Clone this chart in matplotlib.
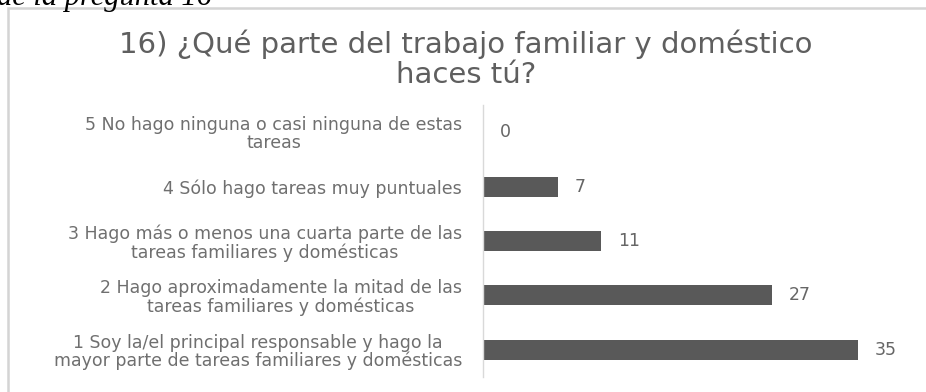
import matplotlib

matplotlib.use("Agg", force=True)
import matplotlib.pyplot as plt
from matplotlib.patches import Rectangle

# answers to question 16, bottom to top
categories = [
    "1 Soy la/el principal responsable y hago la\nmayor parte de tareas familiares y domésticas",
    "2 Hago aproximadamente la mitad de las\ntareas familiares y domésticas",
    "3 Hago más o menos una cuarta parte de las\ntareas familiares y domésticas",
    "4 Sólo hago tareas muy puntuales",
    "5 No hago ninguna o casi ninguna de estas\ntareas",
]
counts = [35, 27, 11, 7, 0]

title_lines = ["16) ¿Qué parte del trabajo familiar y doméstico", "haces tú?"]
caption = "de la pregunta 16"

W, H = 926, 392
fig = plt.figure(figsize=(W / 100, H / 100), dpi=100)
fig.patch.set_facecolor("white")

# chart frame, runs off the right and bottom edges
fig.patches.append(
    Rectangle((8 / W, -0.1), 1.2, (H - 8) / H + 0.1, transform=fig.transFigure,
              fill=False, edgecolor="#d4d4d4", linewidth=1.8)
)

fig.text(-3 / W, 1 - 5 / H, caption, family="Liberation Serif", style="italic",
         fontsize=22, color="black", ha="left", va="baseline")

for baseline, line in zip((53, 83), title_lines):
    fig.text(466 / W, 1 - baseline / H, line, ha="center", va="baseline",
             fontsize=21, color="#5f5f5f")

ax = fig.add_axes([483 / W, 15 / H, 428 / W, 272 / H])
y = range(len(categories))
ax.barh(y, counts, height=0.37, color="#595959")
ax.set_xlim(0, 40)
ax.set_ylim(-0.5, len(categories) - 0.5)

for i, v in zip(y, counts):
    ax.annotate(str(v), (v, i), xytext=(17, 0), textcoords="offset pixels",
                ha="left", va="center", fontsize=12.5, color="#666666")

ax.set_yticks(list(y))
ax.set_yticklabels(categories, fontsize=12.5, color="#6f6f6f",
                   multialignment="center", linespacing=1.0)
ax.tick_params(axis="y", length=0, pad=15)
ax.set_xticks([])
for side in ("top", "right", "bottom"):
    ax.spines[side].set_visible(False)
ax.spines["left"].set_color("#d9d9d9")
ax.spines["left"].set_linewidth(1.0)

fig.savefig("out.png", dpi=100)
